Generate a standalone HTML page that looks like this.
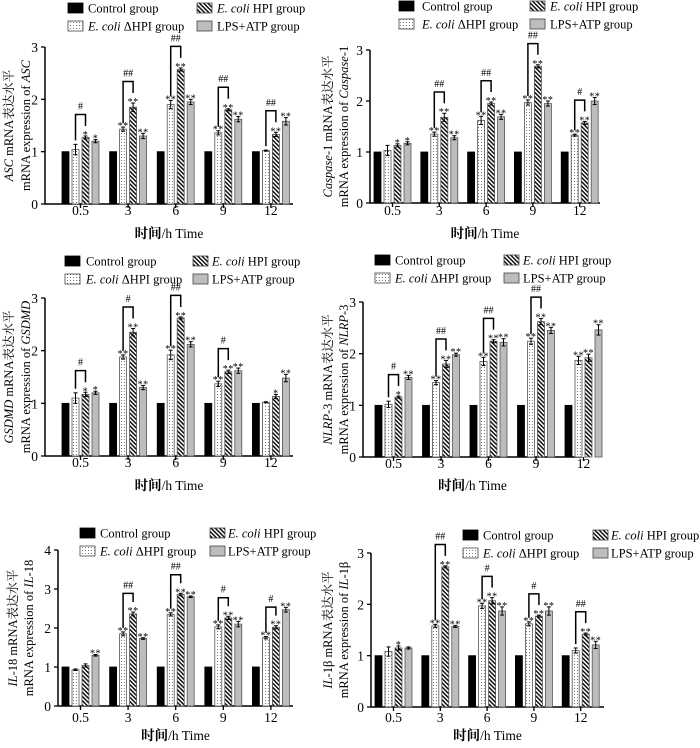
<!DOCTYPE html>
<html><head><meta charset="utf-8"><style>
body{margin:0;background:#fff}
svg{display:block;font-family:"Liberation Serif","Noto Serif CJK SC",serif}
</style></head><body>
<svg id="fig" width="700" height="748" viewBox="0 0 700 748" xmlns="http://www.w3.org/2000/svg">
<defs>
<pattern id="dots" width="3" height="3" patternUnits="userSpaceOnUse"><rect width="3" height="3" fill="#fff"/><rect x="1" y="1" width="1" height="1" fill="#777"/></pattern>
<pattern id="hatch" width="3" height="3" patternUnits="userSpaceOnUse" patternTransform="rotate(-45)"><rect width="3" height="3" fill="#fff"/><rect width="1.5" height="3" fill="#111"/></pattern>
</defs>
</svg>
<script>
const categories=['0.5','3','6','9','12'];
const groupNames=['Control group','E. coli ΔHPI group','E. coli HPI group','LPS+ATP group'];
const ascValues=[[1,1.04,1.27,1.2],[1,1.43,1.85,1.3],[1,1.9,2.57,1.95],[1,1.36,1.8,1.62],[1,1.02,1.33,1.58]];
const ascErr=[[0,0.1,0.03,0.03],[0,0.04,0.08,0.05],[0,0.08,0.03,0.05],[0,0.04,0.02,0.05],[0,0.01,0.04,0.07]];
const ascStars=[['','','*','*'],['','**','**','**'],['','**','**','**'],['','**','**','**'],['','','**','**']];
const ascHash=['#','##','##','##','##'];
const caspValues=[[1,1.03,1.13,1.17],[1,1.35,1.68,1.28],[1,1.62,1.95,1.69],[1,1.97,2.68,1.95],[1,1.33,1.57,2.0]];
const caspErr=[[0,0.1,0.03,0.03],[0,0.04,0.08,0.04],[0,0.08,0.03,0.05],[0,0.05,0.03,0.05],[0,0.02,0.03,0.07]];
const caspStars=[['','','*','*'],['','**','**','**'],['','**','**','**'],['','**','**','**'],['','**','**','**']];
const caspHash=['','##','##','##','#'];
const gsdmdValues=[[1,1.1,1.17,1.2],[1,1.88,2.35,1.3],[1,1.92,2.62,2.12],[1,1.37,1.6,1.62],[1,1.02,1.13,1.48]];
const gsdmdErr=[[0,0.1,0.04,0.03],[0,0.04,0.07,0.04],[0,0.09,0.02,0.05],[0,0.05,0.03,0.05],[0,0.01,0.04,0.07]];
const gsdmdStars=[['','','*','*'],['','**','**','**'],['','**','**','**'],['','**','**','**'],['','','*','**']];
const gsdmdHash=['#','#','##','#',''];
const nlrpValues=[[1,1.02,1.16,1.54],[1,1.44,1.8,1.98],[1,1.85,2.24,2.22],[1,2.24,2.62,2.45],[1,1.87,1.92,2.46]];
const nlrpErr=[[0,0.06,0.02,0.04],[0,0.04,0.07,0.03],[0,0.08,0.03,0.07],[0,0.06,0.06,0.06],[0,0.08,0.07,0.1]];
const nlrpStars=[['','','*','**'],['','**','**','**'],['','**','**','**'],['','**','**','**'],['','**','**','**']];
const nlrpHash=['#','##','##','##',''];
const il18Values=[[1,0.93,1.04,1.3],[1,1.85,2.36,1.73],[1,2.35,2.86,2.8],[1,2.03,2.26,2.1],[1,1.75,2.02,2.47]];
const il18Err=[[0,0.02,0.04,0.02],[0,0.05,0.05,0.02],[0,0.04,0.03,0.02],[0,0.05,0.04,0.07],[0,0.03,0.04,0.06]];
const il18Stars=[['','','','**'],['','**','**','**'],['','**','**','**'],['','**','**','**'],['','**','**','**']];
const il18Hash=['','##','##','#','#'];
const il1bValues=[[1,1.08,1.15,1.15],[1,1.58,2.73,1.57],[1,1.97,2.07,1.87],[1,1.62,1.77,1.87],[1,1.1,1.42,1.21]];
const il1bErr=[[0,0.09,0.04,0.02],[0,0.03,0.02,0.02],[0,0.05,0.06,0.08],[0,0.04,0.02,0.08],[0,0.05,0.02,0.07]];
const il1bStars=[['','','*',''],['','**','**','**'],['','**','**','**'],['','**','**','**'],['','','**','**']];
const il1bHash=['','##','#','#','##'];
const yTicks3=['0','1','2','3'];
const yTicks4=['0','1','2','3','4'];

const NS='http://www.w3.org/2000/svg';
const svg=document.getElementById('fig');
function mk(tag,attrs,parent){const e=document.createElementNS(NS,tag);for(const k in attrs)e.setAttribute(k,attrs[k]);(parent||svg).appendChild(e);return e;}

const panels=[
 {id:'asc',gene:'ASC',suf:'',vals:ascValues,err:ascErr,stars:ascStars,hash:ascHash,ticks:yTicks3,ax:45,yT:47,yB:204,xEnd:293,b0:62,sp:47.6,lg:{y:8,c1:68,t1:88,c2:197,t2:217},lx:[8,25],xt:215,xtt:238},
 {id:'caspase',gene:'Caspase',suf:'-1',vals:caspValues,err:caspErr,stars:caspStars,hash:caspHash,ticks:yTicks3,ax:370,yT:50,yB:203,xEnd:600,b0:374,sp:46.8,lg:{y:6,c1:399,t1:422,c2:530,t2:550},lx:[327,343],xt:215,xtt:238},
 {id:'gsdmd',gene:'GSDMD',suf:'',vals:gsdmdValues,err:gsdmdErr,stars:gsdmdStars,hash:gsdmdHash,ticks:yTicks3,ax:45,yT:298,yB:456,xEnd:293,b0:62,sp:47.6,lg:{y:261,c1:65,t1:86,c2:193,t2:212},lx:[8,25],xt:467,xtt:490},
 {id:'nlrp3',gene:'NLRP',suf:'-3',vals:nlrpValues,err:nlrpErr,stars:nlrpStars,hash:nlrpHash,ticks:yTicks3,ax:363,yT:302,yB:457,xEnd:582,b0:375,sp:47.5,lg:{y:260,c1:375,t1:395,c2:504,t2:523},lx:[327,343],xt:468,xtt:490},
 {id:'il18',gene:'IL',suf:'-18',vals:il18Values,err:il18Err,stars:il18Stars,hash:il18Hash,ticks:yTicks4,ax:58,yT:550,yB:706,xEnd:293,b0:62,sp:47.6,lg:{y:533,c1:80,t1:100,c2:210,t2:228},lx:[12,28],xt:722,xtt:740},
 {id:'il1b',gene:'IL',suf:'-1β',vals:il1bValues,err:il1bErr,stars:il1bStars,hash:il1bHash,ticks:yTicks3,ax:371,yT:553,yB:707,xEnd:604,b0:375,sp:46.8,lg:{y:535,c1:463,t1:483,c2:593,t2:611},lx:[327,343],xt:722,xtt:740},
];
const fills=['#000','url(#dots)','url(#hatch)','#bdbdbd'];
const BW=7,BS=10;

panels.forEach(p=>{
 const g=mk('g',{});
 
 
 const ymax=p.ticks.length-1;
 const yS=v=>p.yB-(v/ymax)*(p.yB-p.yT);
 const xS=(i,j)=>p.b0+i*p.sp+j*BS;
 const L=p.lg;
 const legItems=[[L.c1,L.t1,L.y,0,'Control group'],[L.c2,L.t2,L.y,2,'HPI'],[L.c1,L.t1,L.y+18,1,'dHPI'],[L.c2,L.t2,L.y+18,3,'LPS+ATP group']];
 legItems.forEach(([x,tx0,y,k,t])=>{
  const lg=mk('g',{},g);
  
  
  mk('rect',{x:x,y:y-5,width:15,height:10,fill:fills[k],stroke:k===0?'#000':'#444','stroke-width':0.8},lg);
  const tx=mk('text',{x:tx0,y:y+4.5,'font-size':12.5},lg);
  if(t==='HPI'||t==='dHPI'){
   const a=mk('tspan',{'font-style':'italic'},tx);a.textContent='E. coli';
   const b=mk('tspan',{},tx);b.textContent=t==='HPI'?' HPI group':' ΔHPI group';
  } else tx.textContent=t;
 });
 const ax=mk('g',{},g);
 
 
 mk('line',{x1:p.ax,y1:p.yT,x2:p.ax,y2:p.yB,stroke:'#000','stroke-width':1.5},ax);
 mk('line',{x1:p.ax,y1:p.yB,x2:p.xEnd,y2:p.yB,stroke:'#000','stroke-width':1.5},ax);
 p.ticks.forEach((t,k)=>{
  const y=yS(k);
  mk('line',{x1:p.ax-4,y1:y,x2:p.ax,y2:y,stroke:'#000','stroke-width':1.3},ax);
  const tt=mk('text',{x:p.ax-7,y:y+5,'font-size':13.5,'text-anchor':'end'},ax);tt.textContent=t;
 });
 categories.forEach((c,i)=>{
  const cx=xS(i,0)+(3*BS+BW)/2;
  mk('line',{x1:cx,y1:p.yB,x2:cx,y2:p.yB+4,stroke:'#000','stroke-width':1.3},ax);
  const tt=mk('text',{x:cx,y:p.xt,'font-size':13.5,'text-anchor':'middle'},ax);tt.textContent=c;
 });
 const xt=mk('text',{x:(p.ax+p.xEnd)/2,y:p.xtt,'font-size':13.5,'text-anchor':'middle'},g);
 
 
 const a1=mk('tspan',{'font-weight':'bold'},xt);a1.textContent='时间';
 const a2=mk('tspan',{},xt);a2.textContent='/h Time';
 const cy=(p.yT+p.yB)/2;
 const yt=mk('text',{transform:`translate(${p.lx[0]+5},${cy}) rotate(-90)`,'font-size':12.5,'text-anchor':'middle'},g);
 
 
 let s=mk('tspan',{'font-style':'italic'},yt);s.textContent=p.gene;
 s=mk('tspan',{},yt);s.textContent=p.suf+' mRNA表达水平';
 const yt2=mk('text',{transform:`translate(${p.lx[1]+5},${cy}) rotate(-90)`,'font-size':12.5,'text-anchor':'middle'},g);
 
 
 s=mk('tspan',{},yt2);s.textContent='mRNA expression of ';
 s=mk('tspan',{'font-style':'italic'},yt2);s.textContent=p.gene;
 s=mk('tspan',{},yt2);s.textContent=p.suf;
 p.vals.forEach((row,i)=>{
  row.forEach((v,j)=>{
   const x=xS(i,j),y=yS(v);
   const r=mk('rect',{x:x,y:y,width:BW,height:p.yB-y,fill:fills[j],stroke:j===0?'#000':'#555','stroke-width':0.8},g);
   
   
   const e=p.err[i][j];
   if(e>0){
    const cx=x+BW/2,y1=yS(v+e),y2=yS(v-e);
    mk('line',{x1:cx,y1:y1,x2:cx,y2:y2,stroke:'#000','stroke-width':1},g);
    mk('line',{x1:cx-2,y1:y1,x2:cx+2,y2:y1,stroke:'#000','stroke-width':1},g);
    mk('line',{x1:cx-2,y1:y2,x2:cx+2,y2:y2,stroke:'#000','stroke-width':1},g);
   }
   const st=p.stars[i][j];
   if(st){const t=mk('text',{x:x+BW/2,y:yS(v+e)+2,'font-size':10,'text-anchor':'middle','letter-spacing':'0.5'},g);t.textContent=st;}
  });
  const h=p.hash[i];
  if(h){
   const v1=p.vals[i][1]+p.err[i][1],v2=p.vals[i][2]+p.err[i][2];
   const unit=(p.yB-p.yT)/ymax;
   const top=Math.min(yS(v1),yS(v2))-0.22*unit-10;
   const lx=xS(i,1)+BW/2,rx=xS(i,2)+BW/2;
   const br=mk('polyline',{points:`${lx},${yS(v1)-4} ${lx},${top} ${rx},${top} ${rx},${yS(v2)-10}`,fill:'none',stroke:'#000','stroke-width':1.5},g);
   
   
   const t=mk('text',{x:(lx+rx)/2,y:top-5,'font-size':10,'text-anchor':'middle'},g);t.textContent=h;
  }
 });
});
</script>
</body></html>
